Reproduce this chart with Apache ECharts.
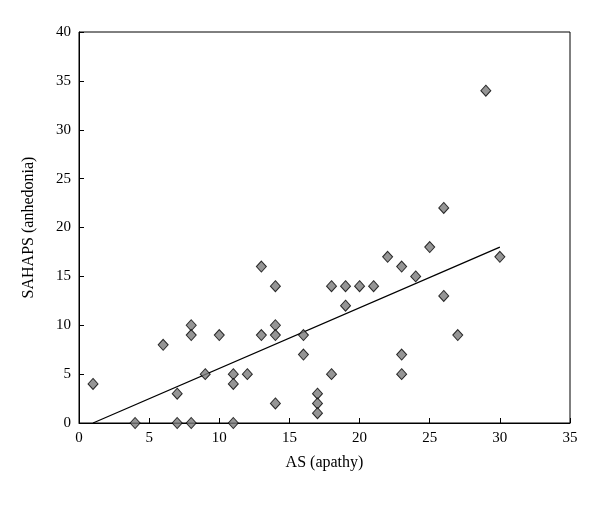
<!DOCTYPE html>
<html>
<head>
<meta charset="utf-8">
<script src="https://cdn.jsdelivr.net/npm/echarts@6/dist/echarts.min.js"></script>
<style>html,body{margin:0;padding:0;background:#fff}#chart{width:600px;height:505px}</style>
</head>
<body>
<div id="chart"></div>
<script>
const apathy = [1, 4, 6, 7, 7, 8, 8, 8, 9, 10, 11, 11, 11, 12, 13, 13, 14, 14, 14, 14, 16, 16, 17, 17, 17, 18, 18, 19, 19, 20, 21, 22, 23, 23, 23, 24, 25, 26, 26, 27, 29, 30];
const anhedonia = [4, 0, 8, 3, 0, 10, 9, 0, 5, 9, 5, 4, 0, 5, 16, 9, 14, 10, 9, 2, 9, 7, 3, 2, 1, 14, 5, 14, 12, 14, 14, 17, 16, 7, 5, 15, 18, 22, 13, 9, 34, 17];
const fitLine = [[1, 0], [30, 18]];

const chart = echarts.init(document.getElementById('chart'));
const font = '"Liberation Serif", serif';
const axisCommon = {
    axisLine: { lineStyle: { color: '#000' } },
    axisTick: { inside: true, length: 5, lineStyle: { color: '#000' } },
    axisLabel: { color: '#000', fontSize: 15, fontFamily: font },
    splitLine: { show: false },
    nameTextStyle: { color: '#000', fontSize: 16, fontFamily: font },
    nameLocation: 'middle'
};
chart.setOption({
    animation: false,
    grid: { left: 79, right: 30, top: 32, bottom: 82, show: true, borderColor: '#000', borderWidth: 1 },
    xAxis: Object.assign({}, axisCommon, { type: 'value', min: 0, max: 35, interval: 5, name: 'AS (apathy)', nameGap: 32 }),
    yAxis: Object.assign({}, axisCommon, { type: 'value', min: 0, max: 40, interval: 5, name: 'SAHAPS (anhedonia)', nameGap: 42 }),
    series: [
        {
            type: 'scatter',
            symbol: 'diamond',
            symbolSize: [10, 11],
            itemStyle: { color: '#7a7a7a', borderColor: '#000', borderWidth: 1 },
            data: apathy.map((x, i) => [x, anhedonia[i]]),
            z: 3
        },
        {
            type: 'line',
            data: fitLine,
            symbol: 'none',
            lineStyle: { color: '#000', width: 1.3 },
            z: 2
        }
    ]
});
</script>
</body>
</html>
